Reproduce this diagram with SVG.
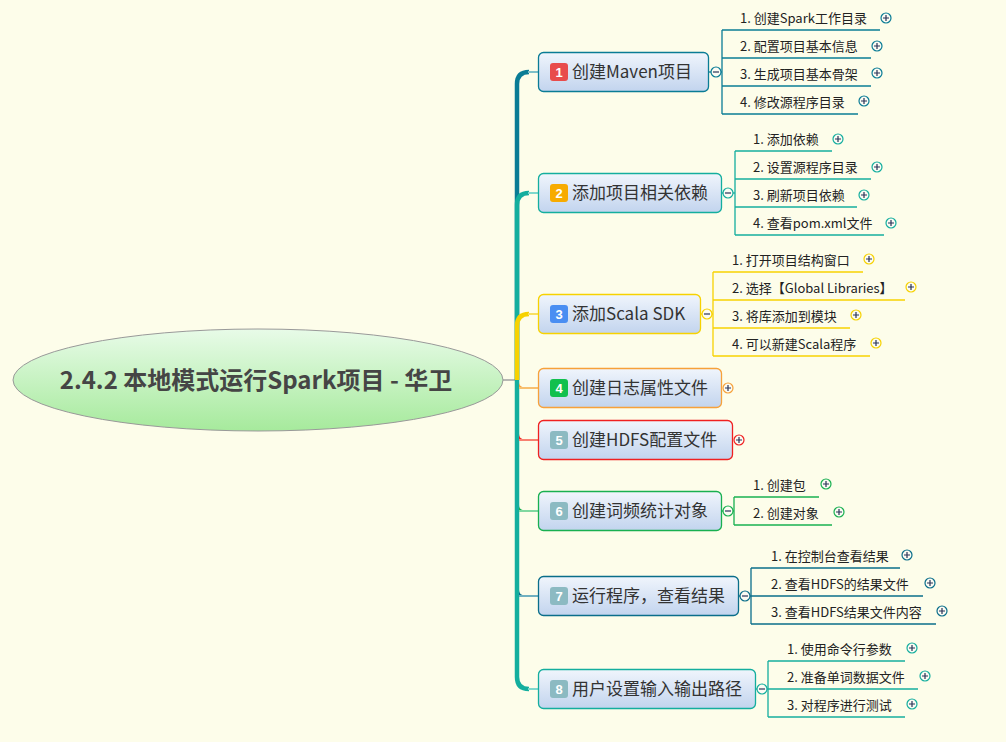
<svg xmlns="http://www.w3.org/2000/svg" width="1006" height="742" viewBox="0 0 1006 742">
<defs>
<linearGradient id="gNode" x1="0" y1="0" x2="0" y2="1">
<stop offset="0" stop-color="#f0f5fc"/>
<stop offset="1" stop-color="#c2d4ee"/>
</linearGradient>
<linearGradient id="gRoot" x1="0" y1="0" x2="0" y2="1">
<stop offset="0" stop-color="#e8fbe8"/>
<stop offset="1" stop-color="#a6ea9c"/>
</linearGradient>
<style>
.bg{fill:#fdfdea}
.node{fill:url(#gNode);stroke-width:1.3}
.ttl{font-family:"Noto Sans CJK SC","Microsoft YaHei",sans-serif;font-size:17px;fill:#333}
.sub{font-family:"Noto Sans CJK SC","Microsoft YaHei",sans-serif;font-size:13px;fill:#222}
.badge{font-family:"Liberation Sans",Arial,sans-serif;font-size:13px;font-weight:bold;fill:#fff}
.root{font-family:"Noto Sans CJK SC","Microsoft YaHei",sans-serif;font-size:24px;font-weight:bold;fill:#454545}
.ln{fill:none;stroke-width:1.3}
.plus{fill:#fbfbf3;stroke-width:1.2}
.pm{stroke:#2a3358;stroke-width:1.2;fill:none}
.trunk{fill:none;stroke-width:4.5;stroke-linecap:butt}
</style>
</defs>
<rect class="bg" width="1006" height="742"/>

<g id="connectors">
<line x1="503" y1="380" x2="517" y2="380" stroke="#a0a0a0" stroke-width="1.5"/>
<path class="trunk" stroke="#0a7c95" d="M517,380 V84 Q517,72 529,72"/>
<line x1="528" y1="72" x2="538" y2="72" stroke="#7ec0c8" stroke-width="2"/>
<path class="trunk" stroke="#14ae9e" d="M517,380 V205 Q517,193 529,193"/>
<line x1="528" y1="193" x2="538" y2="193" stroke="#7fd8cc" stroke-width="2"/>
<path class="trunk" stroke="#f7d200" d="M517,380 V326 Q517,314 529,314"/>
<line x1="528" y1="314" x2="538" y2="314" stroke="#f8e060" stroke-width="2"/>
<path class="trunk" stroke="#14ae9e" d="M517,380 V677 Q517,689 529,689"/>
<line x1="528" y1="689" x2="538" y2="689" stroke="#7fd8cc" stroke-width="2"/>
<path fill="#f7a13a" d="M519,382 Q519,387 525,387.5 L525,389 L519,389 Z"/>
<line x1="519" y1="388" x2="538" y2="388" stroke="#f8c070" stroke-width="2"/>
<path fill="#f02020" d="M519,434 Q519,439 525,439.5 L525,441 L519,441 Z"/>
<line x1="519" y1="440" x2="538" y2="440" stroke="#f88070" stroke-width="2"/>
<path fill="#18b050" d="M519,505 Q519,510 525,510.5 L525,512 L519,512 Z"/>
<line x1="519" y1="511" x2="538" y2="511" stroke="#80d8a0" stroke-width="2"/>
<path fill="#0a6e8a" d="M519,590 Q519,595 525,595.5 L525,597 L519,597 Z"/>
<line x1="519" y1="596" x2="538" y2="596" stroke="#70b0c0" stroke-width="2"/>

<g class="ln" stroke="#0a7c95">
<line x1="709" y1="72" x2="722" y2="72"/>
<line x1="722" y1="30" x2="722" y2="114"/>
<line x1="722" y1="30" x2="880" y2="30"/>
<line x1="722" y1="58" x2="871" y2="58"/>
<line x1="722" y1="86" x2="871" y2="86"/>
<line x1="722" y1="114" x2="858" y2="114"/>
</g>
<g class="ln" stroke="#14ae9e">
<line x1="722" y1="193" x2="735" y2="193"/>
<line x1="735" y1="151" x2="735" y2="235"/>
<line x1="735" y1="151" x2="832" y2="151"/>
<line x1="735" y1="179" x2="871" y2="179"/>
<line x1="735" y1="207" x2="857" y2="207"/>
<line x1="735" y1="235" x2="884" y2="235"/>
</g>
<g class="ln" stroke="#f7d200">
<line x1="701" y1="314" x2="713" y2="314"/>
<line x1="713" y1="272" x2="713" y2="356"/>
<line x1="713" y1="272" x2="863" y2="272"/>
<line x1="713" y1="300" x2="905" y2="300"/>
<line x1="713" y1="328" x2="850" y2="328"/>
<line x1="713" y1="356" x2="870" y2="356"/>
</g>
<g class="ln" stroke="#18b050">
<line x1="721" y1="511" x2="734" y2="511"/>
<line x1="734" y1="497" x2="734" y2="525"/>
<line x1="734" y1="497" x2="819" y2="497"/>
<line x1="734" y1="525" x2="832" y2="525"/>
</g>
<g class="ln" stroke="#0a6e8a">
<line x1="738" y1="596" x2="751" y2="596"/>
<line x1="751" y1="568" x2="751" y2="624"/>
<line x1="751" y1="568" x2="900" y2="568"/>
<line x1="751" y1="596" x2="923" y2="596"/>
<line x1="751" y1="624" x2="936" y2="624"/>
</g>
<g class="ln" stroke="#14ae9e">
<line x1="755" y1="689" x2="768" y2="689"/>
<line x1="768" y1="661" x2="768" y2="717"/>
<line x1="768" y1="661" x2="905" y2="661"/>
<line x1="768" y1="689" x2="918" y2="689"/>
<line x1="768" y1="717" x2="905" y2="717"/>
</g>
</g>

<g id="root">
<ellipse cx="258" cy="380" rx="245" ry="51" fill="url(#gRoot)" stroke="#999" stroke-width="1"/>
<text class="root" x="256" y="389" text-anchor="middle">2.4.2 本地模式运行Spark项目 - 华卫</text>
</g>

<g id="n1">
<rect class="node" x="538.5" y="52.5" width="170" height="39" rx="5" stroke="#0a7c95"/>
<rect x="550" y="63" width="18" height="18" rx="3" fill="#e84c4c"/>
<text class="badge" x="559" y="77" text-anchor="middle">1</text>
<text class="ttl" x="572" y="78">创建Maven项目</text>
<circle class="plus" cx="716" cy="72" r="5" stroke="#0a7c95"/>
<line class="pm" x1="713" y1="72" x2="719" y2="72"/>
</g>
<g id="n1c">
<text class="sub" x="740" y="23">1. 创建Spark工作目录</text>
<text class="sub" x="740" y="51">2. 配置项目基本信息</text>
<text class="sub" x="740" y="79">3. 生成项目基本骨架</text>
<text class="sub" x="740" y="107">4. 修改源程序目录</text>
<g stroke="#0a7c95"><circle class="plus" cx="886" cy="18" r="5"/><circle class="plus" cx="877" cy="46" r="5"/><circle class="plus" cx="877" cy="73" r="5"/><circle class="plus" cx="864" cy="101" r="5"/></g>
<path class="pm" d="M883,18h6M886,15v6M874,46h6M877,43v6M874,73h6M877,70v6M861,101h6M864,98v6"/>
</g>

<g id="n2">
<rect class="node" x="538.5" y="173.5" width="183" height="39" rx="5" stroke="#14ae9e"/>
<rect x="550" y="184" width="18" height="18" rx="3" fill="#f7ab00"/>
<text class="badge" x="559" y="198" text-anchor="middle">2</text>
<text class="ttl" x="572" y="199">添加项目相关依赖</text>
<circle class="plus" cx="728" cy="193" r="5" stroke="#14ae9e"/>
<line class="pm" x1="725" y1="193" x2="731" y2="193"/>
</g>
<g id="n2c">
<text class="sub" x="753" y="144">1. 添加依赖</text>
<text class="sub" x="753" y="172">2. 设置源程序目录</text>
<text class="sub" x="753" y="200">3. 刷新项目依赖</text>
<text class="sub" x="753" y="228">4. 查看pom.xml文件</text>
<g stroke="#14ae9e"><circle class="plus" cx="838" cy="139" r="5"/><circle class="plus" cx="877" cy="167" r="5"/><circle class="plus" cx="864" cy="195" r="5"/><circle class="plus" cx="891" cy="223" r="5"/></g>
<path class="pm" d="M835,139h6M838,136v6M874,167h6M877,164v6M861,195h6M864,192v6M888,223h6M891,220v6"/>
</g>

<g id="n3">
<rect class="node" x="538.5" y="294.5" width="162" height="39" rx="5" stroke="#f7d200"/>
<rect x="550" y="305" width="18" height="18" rx="3" fill="#4a8ef2"/>
<text class="badge" x="559" y="319" text-anchor="middle">3</text>
<text class="ttl" x="572" y="320">添加Scala SDK</text>
<circle class="plus" cx="707" cy="314" r="5" stroke="#f7d200"/>
<line class="pm" x1="704" y1="314" x2="710" y2="314" stroke="#888"/>
</g>
<g id="n3c">
<text class="sub" x="732" y="265">1. 打开项目结构窗口</text>
<text class="sub" x="732" y="293">2. 选择【Global Libraries】</text>
<text class="sub" x="732" y="321">3. 将库添加到模块</text>
<text class="sub" x="732" y="349">4. 可以新建Scala程序</text>
<g stroke="#f7d200"><circle class="plus" cx="869" cy="259" r="5"/><circle class="plus" cx="911" cy="287" r="5"/><circle class="plus" cx="856" cy="315" r="5"/><circle class="plus" cx="876" cy="343" r="5"/></g>
<path class="pm" d="M866,259h6M869,256v6M908,287h6M911,284v6M853,315h6M856,312v6M873,343h6M876,340v6"/>
</g>

<g id="n4">
<rect class="node" x="538.5" y="368.5" width="183" height="39" rx="5" stroke="#f7a13a"/>
<rect x="550" y="379" width="18" height="18" rx="3" fill="#12c04e"/>
<text class="badge" x="559" y="393" text-anchor="middle">4</text>
<text class="ttl" x="572" y="394">创建日志属性文件</text>
<circle class="plus" cx="728" cy="388" r="5" stroke="#f7a13a"/>
<path class="pm" d="M725,388h6M728,385v6"/>
</g>

<g id="n5">
<rect class="node" x="538.5" y="420.5" width="194" height="39" rx="5" stroke="#f02020"/>
<rect x="550" y="431" width="18" height="18" rx="3" fill="#8cbac2"/>
<text class="badge" x="559" y="445" text-anchor="middle">5</text>
<text class="ttl" x="572" y="446">创建HDFS配置文件</text>
<circle class="plus" cx="739" cy="440" r="5" stroke="#f02020"/>
<path class="pm" d="M736,440h6M739,437v6"/>
</g>

<g id="n6">
<rect class="node" x="538.5" y="491.5" width="183" height="39" rx="5" stroke="#18b050"/>
<rect x="550" y="502" width="18" height="18" rx="3" fill="#8cbac2"/>
<text class="badge" x="559" y="516" text-anchor="middle">6</text>
<text class="ttl" x="572" y="517">创建词频统计对象</text>
<circle class="plus" cx="728" cy="511" r="5" stroke="#18b050"/>
<line class="pm" x1="725" y1="511" x2="731" y2="511"/>
</g>
<g id="n6c">
<text class="sub" x="753" y="490">1. 创建包</text>
<text class="sub" x="753" y="518">2. 创建对象</text>
<g stroke="#18b050"><circle class="plus" cx="826" cy="484" r="5"/><circle class="plus" cx="839" cy="512" r="5"/></g>
<path class="pm" d="M823,484h6M826,481v6M836,512h6M839,509v6"/>
</g>

<g id="n7">
<rect class="node" x="538.5" y="576.5" width="200" height="39" rx="5" stroke="#0a6e8a"/>
<rect x="550" y="587" width="18" height="18" rx="3" fill="#8cbac2"/>
<text class="badge" x="559" y="601" text-anchor="middle">7</text>
<text class="ttl" x="572" y="602">运行程序，查看结果</text>
<circle class="plus" cx="745" cy="596" r="5" stroke="#0a6e8a"/>
<line class="pm" x1="742" y1="596" x2="748" y2="596"/>
</g>
<g id="n7c">
<text class="sub" x="771" y="561">1. 在控制台查看结果</text>
<text class="sub" x="771" y="589">2. 查看HDFS的结果文件</text>
<text class="sub" x="771" y="617">3. 查看HDFS结果文件内容</text>
<g stroke="#0a6e8a"><circle class="plus" cx="907" cy="555" r="5"/><circle class="plus" cx="930" cy="583" r="5"/><circle class="plus" cx="942" cy="611" r="5"/></g>
<path class="pm" d="M904,555h6M907,552v6M927,583h6M930,580v6M939,611h6M942,608v6"/>
</g>

<g id="n8">
<rect class="node" x="538.5" y="669.5" width="217" height="39" rx="5" stroke="#14ae9e"/>
<rect x="550" y="680" width="18" height="18" rx="3" fill="#8cbac2"/>
<text class="badge" x="559" y="694" text-anchor="middle">8</text>
<text class="ttl" x="572" y="695">用户设置输入输出路径</text>
<circle class="plus" cx="762" cy="689" r="5" stroke="#14ae9e"/>
<line class="pm" x1="759" y1="689" x2="765" y2="689"/>
</g>
<g id="n8c">
<text class="sub" x="787" y="654">1. 使用命令行参数</text>
<text class="sub" x="787" y="682">2. 准备单词数据文件</text>
<text class="sub" x="787" y="710">3. 对程序进行测试</text>
<g stroke="#14ae9e"><circle class="plus" cx="912" cy="648" r="5"/><circle class="plus" cx="925" cy="676" r="5"/><circle class="plus" cx="912" cy="704" r="5"/></g>
<path class="pm" d="M909,648h6M912,645v6M922,676h6M925,673v6M909,704h6M912,701v6"/>
</g>
</svg>
